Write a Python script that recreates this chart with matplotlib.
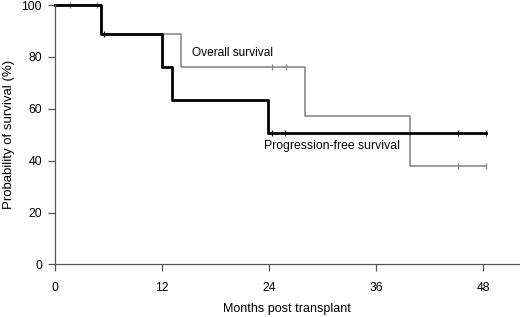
import matplotlib.pyplot as plt

plt.rcParams["font.family"] = ["Liberation Sans", "DejaVu Sans"]

# Kaplan-Meier step data (months, % surviving)
os_times = [0, 5.2, 14.1, 28.0, 39.8, 48.3]
os_surv = [100, 88.9, 76.2, 57.1, 38.1, 38.1]
os_cens_t = [1.7, 4.7, 24.4, 25.9, 45.2, 48.3]
os_cens_s = [100, 100, 76.2, 76.2, 38.1, 38.1]

pfs_times = [0, 5.2, 12.0, 13.1, 23.9, 48.3]
pfs_surv = [100, 88.9, 76.2, 63.5, 50.8, 50.8]
pfs_cens_t = [5.5, 24.3, 25.8, 45.2, 48.3]
pfs_cens_s = [88.9, 50.8, 50.8, 50.8, 50.8]

x_ticks = [0, 12, 24, 36, 48]
y_ticks = [0, 20, 40, 60, 80, 100]

fig = plt.figure(figsize=(5.2, 3.17), dpi=100)
ax = fig.add_axes([0.105, 0.166, 0.893, 0.818])

ax.step(os_times, os_surv, where="post", color="#828282", lw=1.1, clip_on=False)
ax.plot(os_cens_t, os_cens_s, ls="none", marker="|", ms=5, mew=0.9,
        color="#828282", clip_on=False)
ax.step(pfs_times, pfs_surv, where="post", color="black", lw=2.0, clip_on=False)
ax.plot(pfs_cens_t, pfs_cens_s, ls="none", marker="|", ms=5, mew=0.9,
        color="black", clip_on=False)

ax.text(15.4, 81.5, "Overall survival", fontsize=8.6, ha="left", va="center")
ax.text(23.4, 45.5, "Progression-free survival", fontsize=8.8, ha="left", va="center")

ax.set_xlim(0, 52)
ax.set_ylim(0, 100)
ax.set_xticks(x_ticks)
ax.set_yticks(y_ticks)
ax.tick_params(direction="out", length=5, width=0.9, color="#555555",
               labelsize=8.8, pad=8)
ax.tick_params(axis="y", pad=4)
for s in ["top", "right"]:
    ax.spines[s].set_visible(False)
for s in ["left", "bottom"]:
    ax.spines[s].set_color("#555555")
    ax.spines[s].set_linewidth(0.9)

ax.set_xlabel("Months post transplant", fontsize=9, labelpad=6)
ax.set_ylabel("Probability of survival (%)", fontsize=9.5, labelpad=5)

fig.savefig("out.png", dpi=100)
